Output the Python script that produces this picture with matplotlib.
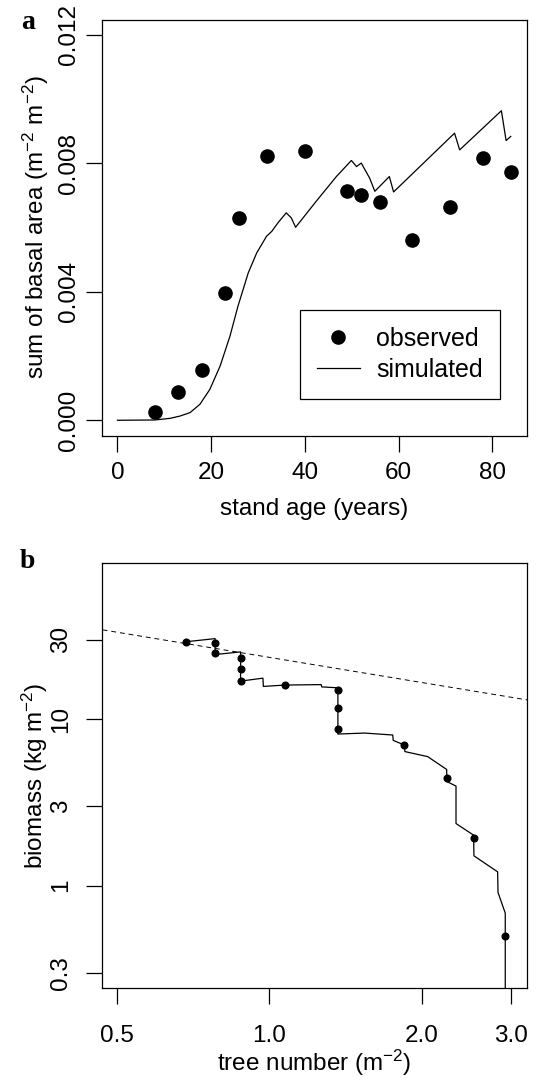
import matplotlib
matplotlib.use("Agg")
import matplotlib.pyplot as plt
from matplotlib.ticker import FixedLocator, FixedFormatter, NullLocator

plt.rcParams['font.family'] = ['Liberation Sans', 'DejaVu Sans']
plt.rcParams['mathtext.fontset'] = 'custom'
plt.rcParams['mathtext.rm'] = 'Liberation Sans'
plt.rcParams['mathtext.it'] = 'Liberation Sans'

# ---- panel a data ----
obs_age = [8, 13, 18, 22.9, 26, 32, 40, 48.9, 52, 55.9, 62.8, 70.9, 78, 83.9]
obs_ba = [0.00027, 0.00088, 0.00156, 0.00397, 0.0063, 0.00822, 0.00837,
          0.00713, 0.0070, 0.0068, 0.0056, 0.00663, 0.00817, 0.00772]

sim_age = [0, 8, 11.2, 13.3, 15.5, 17.6, 19.7, 21.9, 24.0, 25.7, 27.9, 29.7,
           31.8, 32.9, 34.3, 36.0, 37.1, 38.0, 42.4, 46.7, 49.9, 51.0, 52.0,
           53.8, 54.9, 58.0, 58.9, 71.9, 73.0, 81.9, 82.9, 83.9]
sim_ba = [0, 0.00001, 0.00006, 0.00013, 0.00024, 0.0005, 0.00096, 0.00169,
          0.00262, 0.00355, 0.00459, 0.00521, 0.00573, 0.00588, 0.00616,
          0.00646, 0.0063, 0.00601, 0.00682, 0.00759, 0.00809, 0.0079,
          0.00801, 0.00754, 0.00713, 0.00759, 0.00711, 0.00894, 0.00842,
          0.00964, 0.00871, 0.00884]

a_xticks = [0, 20, 40, 60, 80]
a_yticks = [0.000, 0.004, 0.008, 0.012]
a_yticklabels = ['0.000', '0.004', '0.008', '0.012']

# ---- panel b data ----
line_n = [0.683, 0.781, 0.781, 0.877, 0.877, 0.971, 0.973, 1.073, 1.266, 1.269,
          1.366, 1.366, 1.542, 1.754, 1.757, 1.849, 1.853, 2.056, 2.242, 2.242,
          2.339, 2.339, 2.534, 2.538, 2.827, 2.832, 2.927, 2.927]
line_bm = [29.1, 30.4, 24.4, 25.3, 16.9, 17.6, 15.7, 16.0, 16.1, 15.6,
           15.4, 8.13, 8.24, 8.02, 7.45, 6.98, 6.38, 5.95, 4.98, 4.22,
           3.96, 2.36, 2.01, 1.51, 1.21, 0.91, 0.684, 0.1]

pt_n = [0.683, 0.781, 0.781, 0.877, 0.877, 0.877, 1.073, 1.366, 1.366, 1.366,
        1.849, 2.242, 2.534, 2.923]
pt_bm = [29.1, 28.5, 24.9, 23.4, 20.1, 16.9, 16.1, 14.9, 11.7, 8.7,
         6.98, 4.42, 1.94, 0.499]

thin_n = [0.45, 3.3]
thin_bm = [35.0, 12.9]

b_xticks = [0.5, 1.0, 2.0, 3.0]
b_xticklabels = ['0.5', '1.0', '2.0', '3.0']
b_yticks = [0.3, 1, 3, 10, 30]
b_yticklabels = ['0.3', '1', '3', '10', '30']

W, H = 538, 1078
fig = plt.figure(figsize=(W / 100, H / 100), dpi=100)

def frac(l, r, t, b):
    return [l / W, 1 - b / H, (r - l) / W, (b - t) / H]

FS = 17.5
TL = 11.5

ax1 = fig.add_axes(frac(101.7, 527, 19.5, 435.7))
ax1.plot(sim_age, sim_ba, color='black', lw=0.9, label='simulated')
ax1.plot(obs_age, obs_ba, 'o', color='black', ms=9.5, label='observed')
ax1.set_xlim(-3.36, 87.36)
ax1.set_ylim(-0.00048, 0.01248)
ax1.set_xticks(a_xticks)
ax1.set_yticks(a_yticks)
ax1.set_yticklabels(a_yticklabels)
ax1.set_xlabel('stand age (years)', fontsize=FS, labelpad=10)
ax1.set_ylabel(r'sum of basal area (m$^{-2}$ m$^{-2}$)', fontsize=FS, labelpad=5)
h, l = ax1.get_legend_handles_labels()
leg = ax1.legend([h[1], h[0]], [l[1], l[0]], loc='lower right',
                 bbox_to_anchor=(0.9365, 0.088), borderaxespad=0,
                 fancybox=False, edgecolor='black', fontsize=18,
                 handlelength=1.7, handletextpad=0.65, labelspacing=0.26,
                 borderpad=0.7, framealpha=1)
leg.get_frame().set_linewidth(0.9)
fig.text(28 / W, 1 - 22.5 / H, 'a', family=['Liberation Serif'], weight='bold',
         fontsize=20, ha='center', va='center')

ax2 = fig.add_axes(frac(101.7, 527.3, 563.3, 988.3))
ax2.plot(thin_n, thin_bm, '--', color='black', lw=0.7, dashes=(5, 4))
ax2.plot(line_n, line_bm, '-', color='black', lw=0.9)
ax2.plot(pt_n, pt_bm, 'o', color='black', ms=4.8)
ax2.set_xscale('log')
ax2.set_yscale('log')
ax2.set_xlim(0.466, 3.236)
ax2.set_ylim(0.242, 86.1)
ax2.xaxis.set_major_locator(FixedLocator(b_xticks))
ax2.xaxis.set_major_formatter(FixedFormatter(b_xticklabels))
ax2.xaxis.set_minor_locator(NullLocator())
ax2.yaxis.set_major_locator(FixedLocator(b_yticks))
ax2.yaxis.set_major_formatter(FixedFormatter(b_yticklabels))
ax2.yaxis.set_minor_locator(NullLocator())
ax2.set_xlabel(r'tree number (m$^{-2}$)', fontsize=FS, labelpad=0.3)
ax2.set_ylabel(r'biomass (kg m$^{-2}$)', fontsize=FS, labelpad=0)
fig.text(27 / W, 1 - 561 / H, 'b', family=['Liberation Serif'], weight='bold',
         fontsize=20, ha='center', va='center')

for ax in (ax1, ax2):
    for s in ax.spines.values():
        s.set_linewidth(0.9)
    ax.tick_params(direction='out', length=TL, width=0.9, labelsize=FS)
    for lab in ax.get_yticklabels():
        lab.set_rotation(90)
        lab.set_va('center')

ax1.tick_params(axis='x', pad=7.7)
ax1.tick_params(axis='y', pad=4.2)
ax2.tick_params(axis='x', pad=15)
ax2.tick_params(axis='y', pad=10)

fig.savefig('out.png', dpi=100)
